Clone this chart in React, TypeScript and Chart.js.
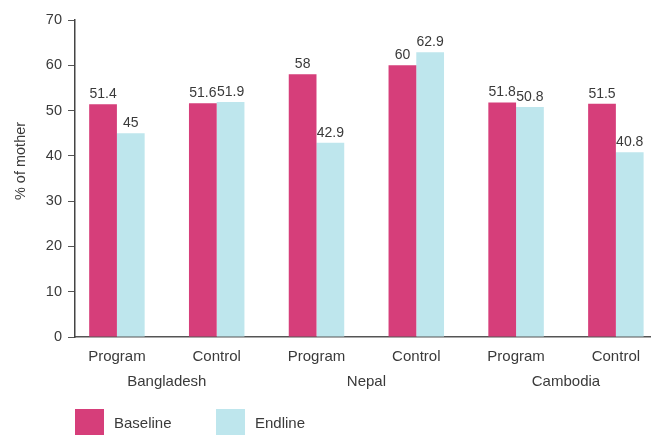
import React, { useEffect, useRef } from "react";
import { Chart, registerables } from "chart.js";

Chart.register(...registerables);

const groups = ["Program", "Control", "Program", "Control", "Program", "Control"];
const countries = ["Bangladesh", "Nepal", "Cambodia"];
const countryPositions = [0.5, 2.5, 4.5];
const baseline = [51.4, 51.6, 58, 60, 51.8, 51.5];
const endline = [45, 51.9, 42.9, 62.9, 50.8, 40.8];
const seriesNames = ["Baseline", "Endline"];
const seriesColors = ["#D63E7A", "#BEE6ED"];
const yTitle = "% of mother";

const FONT = '"Liberation Sans", Arial, sans-serif';
const TEXT = "#3a3a3a";
const FS = 15;
const FS_NUM = 14;

const valueLabels = {
  id: "valueLabels",
  afterDatasetsDraw(chart: any) {
    const ctx = chart.ctx;
    ctx.save();
    ctx.font = `${FS_NUM}px ${FONT}`;
    ctx.fillStyle = TEXT;
    ctx.textAlign = "center";
    ctx.textBaseline = "alphabetic";
    chart.data.datasets.forEach((ds: any, di: number) => {
      const meta = chart.getDatasetMeta(di);
      meta.data.forEach((el: any, i: number) => {
        const v = ds.data[i].y;
        ctx.fillText(String(v), el.x, el.y - 6);
      });
    });
    ctx.restore();
  },
};

const yAxisTitle = {
  id: "yAxisTitle",
  afterDraw(chart: any) {
    const ctx = chart.ctx;
    const { left, top } = chart.chartArea;
    ctx.save();
    ctx.translate(left - 50, top + 141);
    ctx.rotate(-Math.PI / 2);
    ctx.font = `14.5px ${FONT}`;
    ctx.fillStyle = TEXT;
    ctx.textAlign = "center";
    ctx.textBaseline = "alphabetic";
    ctx.fillText(yTitle, 0, 0);
    ctx.restore();
  },
};

const customLegend = {
  id: "customLegend",
  afterDraw(chart: any) {
    const ctx = chart.ctx;
    const left = chart.chartArea.left;
    const top = chart.chartArea.bottom + 72;
    const offsets = [0, 141];
    ctx.save();
    ctx.font = `${FS}px ${FONT}`;
    ctx.textAlign = "left";
    ctx.textBaseline = "middle";
    chart.data.datasets.forEach((ds: any, i: number) => {
      const x = left + offsets[i];
      ctx.fillStyle = ds.backgroundColor;
      ctx.fillRect(x, top, 29, 26);
      ctx.fillStyle = TEXT;
      ctx.fillText(ds.label, x + 39, top + 15);
    });
    ctx.restore();
  },
};

export default function App() {
  const ref = useRef<HTMLCanvasElement | null>(null);

  useEffect(() => {
    document.body.style.margin = "0";
    if (!ref.current) return;
    const values = [baseline, endline];
    const chart = new Chart(ref.current, {
      type: "bar",
      data: {
        datasets: values.map((arr, si) => ({
          label: seriesNames[si],
          data: arr.map((v, i) => ({ x: i, y: v })),
          backgroundColor: seriesColors[si],
          categoryPercentage: 0.556,
          barPercentage: 1,
        })),
      },
      options: {
        animation: false,
        responsive: false,
        layout: { padding: { top: 20, left: 0, right: 0, bottom: 45 } },
        plugins: { legend: { display: false }, tooltip: { enabled: false } },
        scales: {
          x: {
            type: "linear",
            position: "bottom",
            min: -0.42,
            max: 5.352,
            offset: false,
            bounds: "data",
            grace: 0,
            weight: 0,
            afterBuildTicks: (s: any) => {
              s.ticks = groups.map((_, i) => ({ value: i }));
            },
            afterFit: (s: any) => {
              s.height = 28;
            },
            ticks: {
              autoSkip: false,
              maxRotation: 0,
              padding: 3,
              color: TEXT,
              font: { family: FONT, size: FS },
              callback: (_v: any, i: number) => groups[i],
            },
            grid: { display: false },
            border: { display: true, color: "#555", width: 1.5 },
          },
          x2: {
            type: "linear",
            position: "bottom",
            min: -0.42,
            max: 5.352,
            offset: false,
            bounds: "data",
            weight: 1,
            afterBuildTicks: (s: any) => {
              s.ticks = countryPositions.map((p) => ({ value: p }));
            },
            afterFit: (s: any) => {
              s.height = 25;
            },
            ticks: {
              autoSkip: false,
              maxRotation: 0,
              padding: 0,
              color: TEXT,
              font: { family: FONT, size: FS },
              callback: (_v: any, i: number) => countries[i],
            },
            grid: { display: false },
            border: { display: false },
          },
          y: {
            min: 0,
            max: 70,
            afterFit: (s: any) => {
              s.width = 75;
            },
            ticks: {
              stepSize: 10,
              padding: 6,
              color: TEXT,
              font: { family: FONT, size: 14.5 },
            },
            grid: {
              drawOnChartArea: false,
              drawTicks: true,
              tickLength: 7,
              color: "#555",
            },
            border: { display: true, color: "#444", width: 1.5 },
            title: { display: false },
          },
        },
      },
      plugins: [valueLabels, yAxisTitle, customLegend],
    });
    return () => chart.destroy();
  }, []);

  return (
    <div style={{ width: 651, height: 435, position: "relative" }}>
      <canvas ref={ref} width={651} height={435} />
    </div>
  );
}
